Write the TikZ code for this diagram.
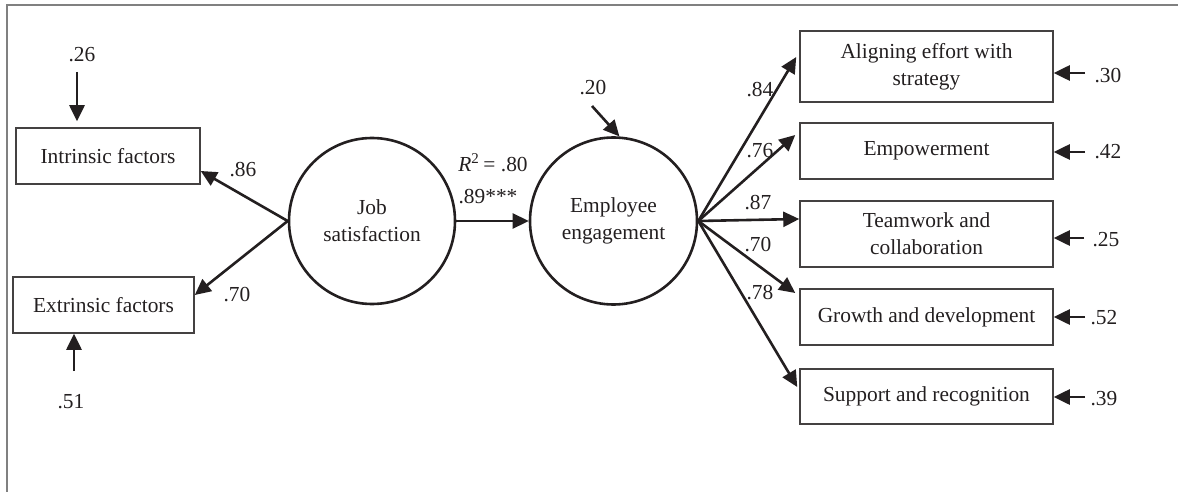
\documentclass[tikz,border=0pt]{standalone}
\usepackage{fontspec}
\setmainfont{Liberation Serif}
\usetikzlibrary{arrows.meta}
\definecolor{ink}{HTML}{231F20}
\begin{document}
\begin{tikzpicture}[x=0.5pt,y=-0.5pt,
  every node/.style={font=\fontsize{10.7}{13.5}\selectfont, text=ink, inner sep=0pt},
  obsbox/.style={draw=ink!85, line width=0.75pt, align=center, minimum width=#1},
  latent/.style={circle, draw=ink, line width=1.3pt, align=center, minimum size=83pt},
  path/.style={draw=ink, line width=1.3pt, -{Triangle[length=8pt,width=7.5pt]}},
  lbl/.style={}
]
\useasboundingbox (0,0) rectangle (1178,492);
% frame
\draw[gray, line width=0.6pt] (7,492) -- (7,5) -- (1178,5);

% left boxes
\node[obsbox=92pt, minimum height=28pt] (intr) at (108,156) {Intrinsic factors};
\node[obsbox=90.5pt, minimum height=28pt] (extr) at (103.5,305) {Extrinsic factors};

% circles
\node[latent] (job) at (372,221) {Job\\satisfaction};
\node[latent, minimum size=83.5pt] (emp) at (613.5,221) {Employee\\engagement};

% right boxes
\node[obsbox=126.5pt, minimum height=35.5pt] (b1) at (926.5,66.5) {Aligning effort with\\strategy};
\node[obsbox=126.5pt, minimum height=28pt] (b2) at (926.5,151) {\raisebox{2pt}{Empowerment}};
\node[obsbox=126.5pt, minimum height=33pt] (b3) at (926.5,234) {Teamwork and\\collaboration};
\node[obsbox=126.5pt, minimum height=28pt] (b4) at (926.5,317) {\raisebox{2pt}{Growth and development}};
\node[obsbox=126.5pt, minimum height=27.5pt] (b5) at (926.5,396.5) {\raisebox{2pt}{Support and recognition}};

% structural paths
\draw[path] (job.west) -- ([yshift=-7.5pt]intr.east);
\draw[path] (job.west) -- ([yshift=5pt]extr.east);
\draw[path] (job.east) -- (emp.west);
\draw[path] (emp.east) -- ([xshift=-1.5pt,yshift=4.75pt]b1.west);
\draw[path] (emp.east) -- ([xshift=-2pt,yshift=8pt]b2.west);
\draw[path] (emp.east) -- ([yshift=7.5pt]b3.west);
\draw[path] (emp.east) -- ([xshift=-2pt,yshift=12pt]b4.west);
\draw[path] (emp.east) -- ([xshift=-1pt,yshift=4.75pt]b5.west);

% path labels
\node[lbl] (l86) at (243,170) {.86};
\node[lbl] (l70a) at (237,295) {.70};
\node[lbl] (lr2) at (493,163) {\textit{R}\textsuperscript{2}\,= .80};
\node[lbl] (l89) at (488,197) {.89***};
\node[lbl] (l84) at (760,90) {.84};
\node[lbl] (l76) at (760,151) {.76};
\node[lbl] (l87) at (758,203) {.87};
\node[lbl] (l70b) at (758,245) {.70};
\node[lbl] (l78) at (760,293) {.78};

% error terms
\coordinate (e26) at (77,72);
\draw[path, shorten >=3pt] (e26) -- ([xshift=-15.5pt]intr.north);
\node[lbl] (t26) at (82,55) {.26};
\coordinate (e51) at (74,371);
\draw[path] (e51) -- ([xshift=-14.75pt]extr.south);
\node[lbl] (t51) at (71,402) {.51};
\coordinate (e20) at (592,106);
\draw[path] (e20) -- (emp.86);
\node[lbl] (t20) at (593,88) {.20};

\coordinate (e30) at (1085,73);
\draw[path] (e30) -- ([yshift=-3.25pt]b1.east);
\node[lbl] (t30) at (1108,76) {.30};
\coordinate (e42) at (1085,152);
\draw[path] (e42) -- ([yshift=-0.5pt]b2.east);
\node[lbl] (t42) at (1108,152) {.42};
\coordinate (e25) at (1084,238);
\draw[path] (e25) -- ([yshift=-2pt]b3.east);
\node[lbl] (t25) at (1106,240) {.25};
\coordinate (e52) at (1085,317);
\draw[path] (e52) -- (b4.east);
\node[lbl] (t52) at (1104,318) {.52};
\coordinate (e39) at (1085,397);
\draw[path] (e39) -- ([yshift=-0.25pt]b5.east);
\node[lbl] (t39) at (1104,399) {.39};
\end{tikzpicture}
\end{document}
